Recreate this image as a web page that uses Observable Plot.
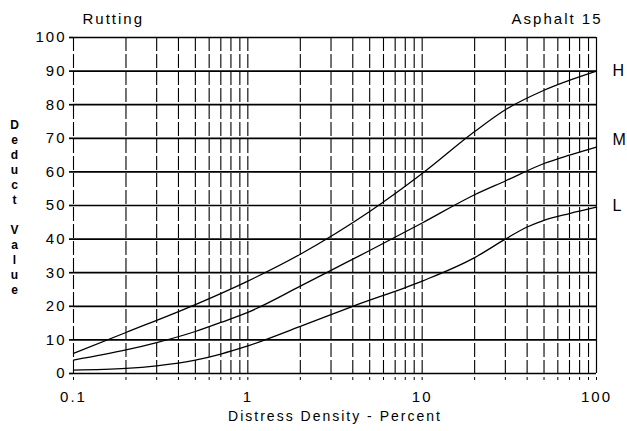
<!DOCTYPE html>
<html><head><meta charset="utf-8">
<script src="https://cdn.jsdelivr.net/npm/d3@7"></script>
<script src="https://cdn.jsdelivr.net/npm/@observablehq/plot@0.6"></script>
<style>body{margin:0;background:#fff}</style>
</head><body><div id="chart"></div>
<script>
// Severity curves: Deduct Value vs Distress Density (%)
const hX = [0.1, 0.2, 0.5, 1, 2, 5, 10, 20, 30, 50, 100];
const hY = [6, 12.2, 20.5, 27.5, 35.5, 48.2, 59.5, 72, 78.5, 84.3, 90];
const mX = [0.1, 0.2, 0.3, 0.5, 0.7, 1, 2, 3, 5, 10, 20, 30, 50, 70, 100];
const mY = [4, 7, 9.2, 12.5, 15.2, 18.2, 26, 30.7, 36.6, 44.8, 53.2, 57.3, 62.5, 65, 67.4];
const lX = [0.1, 0.2, 0.3, 0.5, 0.7, 1, 2, 4, 10, 20, 30, 40, 50, 70, 100];
const lY = [1, 1.5, 2.3, 4, 5.8, 8.2, 14, 20, 27.5, 34.5, 40, 43.6, 45.6, 47.6, 49.5];

const severities = ["H", "M", "L"];
const seriesX = [hX, mX, lX];
const seriesY = [hY, mY, lY];
const labelY = [90, 69.4, 50];

const xGrid = [0.1, 0.2, 0.3, 0.4, 0.5, 0.6, 0.7, 0.8, 0.9,
               1, 2, 3, 4, 5, 6, 7, 8, 9,
               10, 20, 30, 40, 50, 60, 70, 80, 90, 100];
const xLabelValues = [0.1, 1, 10, 100];
const xLabelTexts = ["0.1", "1", "10", "100"];
const yTicks = [0, 10, 20, 30, 40, 50, 60, 70, 80, 90, 100];

const titleLeft = "Rutting";
const titleRight = "Asphalt 15";
const xTitle = "Distress Density - Percent";
const yTitle = "Deduct Value";

const curves = severities.flatMap((s, i) =>
  seriesX[i].map((x, j) => ({sev: s, x, y: seriesY[i][j]})));
const ends = severities.map((s, i) => ({
  sev: s, x: seriesX[i][seriesX[i].length - 1], y: labelY[i]
}));
const stackedY = yTitle.split(" ").map(w => w.split("").join("\n")).join("\n\n");

const chart = Plot.plot({
  width: 627,
  height: 431,
  marginLeft: 73,
  marginRight: 31,
  marginTop: 37,
  marginBottom: 58,
  style: "font-family: 'Liberation Sans', Arial, sans-serif; letter-spacing: 2px; background: #fff; color: #000; overflow: visible;",
  x: {type: "log", domain: [0.1, 100]},
  y: {domain: [0, 100]},
  marks: [
    Plot.ruleX(xGrid.filter(d => d !== 100), {stroke: "#000", strokeWidth: 1.1, strokeDasharray: "14,3"}),
    Plot.ruleX([100], {stroke: "#000", strokeWidth: 1.2}),
    Plot.ruleY(yTicks, {stroke: "#000", strokeWidth: 1.7}),
    Plot.axisX(xGrid, {
      tickSize: 7, tickPadding: 11, fontSize: 15,
      strokeDasharray: "0,4,3,20",
      tickFormat: d => { const k = xLabelValues.indexOf(d); return k >= 0 ? xLabelTexts[k] : ""; },
      label: null
    }),
    Plot.axisY(yTicks, {tickSize: 4, tickPadding: 3, fontSize: 15, strokeWidth: 1.7, label: null}),
    Plot.line(curves, {x: "x", y: "y", z: "sev", curve: "monotone-x", stroke: "#000", strokeWidth: 1.3}),
    Plot.text(ends, {x: "x", y: "y", text: "sev", textAnchor: "start", dx: 16, fontSize: 16, fill: "#000"}),
    Plot.text([titleLeft], {frameAnchor: "top-left", textAnchor: "start", dx: 9, dy: -24, fontSize: 15, fill: "#000"}),
    Plot.text([titleRight], {frameAnchor: "top-right", textAnchor: "end", dx: 6, dy: -24, fontSize: 15, fill: "#000"}),
    Plot.text([xTitle], {frameAnchor: "bottom", dy: 47, fontSize: 14, fill: "#000"}),
    Plot.text([stackedY], {frameAnchor: "left", textAnchor: "middle", dx: -58, dy: 1.5, fontSize: 12, fontWeight: "bold", lineHeight: 1.25, fill: "#000"})
  ]
});
document.getElementById("chart").appendChild(chart);
</script>
</body></html>
